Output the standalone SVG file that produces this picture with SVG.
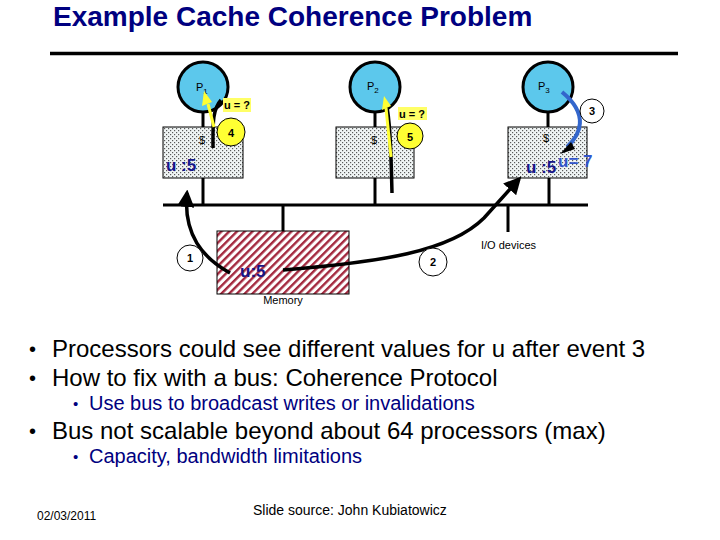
<svg xmlns="http://www.w3.org/2000/svg" width="720" height="540" viewBox="0 0 720 540">
<style>
text{font-family:"Liberation Sans",Arial,sans-serif}
.proc{fill:#5CC8EC;stroke:#000;stroke-width:3}
.cache{fill:url(#dots);stroke:#000;stroke-width:1}
.wire{stroke:#000;stroke-width:3;fill:none}
.lbl{font-size:11px;fill:#000}
.val{font-size:17px;font-weight:bold;fill:#16168a}
.num{fill:#fff;stroke:#000;stroke-width:1}
.ynum{fill:#FFFF33;stroke:#000;stroke-width:1}
.numt{font-size:11px;font-weight:bold;text-anchor:middle}
.ask{fill:#FFFF66}
.askt{font-size:11px;font-weight:bold}
.arr{stroke:#000;stroke-width:3.5;fill:none}
.main{font-size:24px;fill:#000}
.sub{font-size:20px;fill:#000080}
.bul{font-size:20px;fill:#000}
.sbul{font-size:15px;fill:#000080}
</style>
<defs>
<pattern id="dots" width="4" height="4" patternUnits="userSpaceOnUse">
<rect width="4" height="4" fill="#f0f5f5"/>
<rect x="0" y="0" width="1.2" height="1.2" fill="#5a5a5a"/>
<rect x="2" y="2" width="1.2" height="1.2" fill="#5a5a5a"/>
</pattern>
<pattern id="stripes" width="5.5" height="5.5" patternUnits="userSpaceOnUse" patternTransform="rotate(45)">
<rect width="5.5" height="5.5" fill="#fff"/>
<rect width="2.4" height="5.5" fill="#A3283E"/>
</pattern>
<marker id="ah" viewBox="0 0 10 10" refX="8" refY="5" markerWidth="5" markerHeight="5" orient="auto">
<path d="M0,0 L10,5 L0,10 z" fill="#000"/>
</marker>
</defs>

<text x="53" y="26" font-size="28" font-weight="bold" fill="#000080">Example Cache Coherence Problem</text>
<line x1="50" y1="53.5" x2="678" y2="53.5" stroke="#000" stroke-width="3.5"/>

<g id="connectors">
<line class="wire" x1="163" y1="205" x2="588" y2="205"/>
<line class="wire" x1="203" y1="112" x2="203" y2="127"/>
<line class="wire" x1="375" y1="112" x2="375" y2="127"/>
<line class="wire" x1="548" y1="112" x2="548" y2="127"/>
<line class="wire" x1="203" y1="178" x2="203" y2="205"/>
<line class="wire" x1="375" y1="178" x2="375" y2="205"/>
<line class="wire" x1="549" y1="178" x2="549" y2="205"/>
<line class="wire" x1="283" y1="205" x2="283" y2="231"/>
<line class="wire" x1="508" y1="205" x2="508" y2="232"/>
</g>

<g id="P1"><circle class="proc" cx="203" cy="87" r="25"/><text class="lbl" x="196" y="91">P<tspan font-size="8" dy="3">1</tspan></text></g>
<g id="P2"><circle class="proc" cx="375" cy="87" r="25"/><text class="lbl" x="367" y="90">P<tspan font-size="8" dy="3">2</tspan></text></g>
<g id="P3"><circle class="proc" cx="548" cy="87" r="25"/><text class="lbl" x="538" y="90">P<tspan font-size="8" dy="3">3</tspan></text></g>

<g id="cache1"><rect class="cache" x="163" y="127" width="80" height="51"/><text class="lbl" x="199" y="144">$</text><text class="val" x="166" y="171">u :5</text></g>
<g id="cache2"><rect class="cache" x="336" y="127" width="78" height="51"/><text class="lbl" x="371" y="144">$</text></g>
<g id="cache3"><rect class="cache" x="508" y="127" width="79" height="51"/><text class="lbl" x="543" y="142">$</text><text class="val" x="526" y="173">u :5</text><text x="558" y="167" font-size="17" font-weight="bold" fill="#3355CC">u= 7</text></g>

<g id="memory"><rect x="217" y="231" width="132" height="63" fill="url(#stripes)" stroke="#000" stroke-width="1"/><text class="val" x="240" y="277">u:5</text><text x="283" y="304" font-size="11" text-anchor="middle">Memory</text></g>

<g id="io"><text x="481" y="249" font-size="11">I/O devices</text></g>

<g id="events">
<path class="arr" d="M230,273 C203,258 183,235 187,193" marker-end="url(#ah)"/>
<path class="arr" d="M283,270 C380,262 450,252 484,218 L519,179" marker-end="url(#ah)"/>
<path d="M562,92 C590,115 580,135 567,147" stroke="#3366CC" stroke-width="4" fill="none"/>
<path d="M571,142 L560,154 L575,149 z" fill="#000"/>
<path class="arr" d="M213,148 C213,125 212,110 221,100"/>
<path d="M214,127 L208,104" stroke="#FFFF33" stroke-width="3"/>
<path d="M204,91 L202,106 L212,102 z" fill="#FFFF33"/>
<path class="arr" d="M392,193 C391,150 390,118 386,103"/>
<path d="M391,157 L386,108" stroke="#FFFF33" stroke-width="3"/>
<path d="M384,96 L382,110 L391,106 z" fill="#FFFF33"/>
</g>

<g id="label-ask1"><rect class="ask" x="223" y="98" width="28" height="14"/><text class="askt" x="224" y="109">u = ?</text></g>
<g id="label-ask2"><rect class="ask" x="398" y="107" width="29" height="13"/><text class="askt" x="399" y="118">u = ?</text></g>
<g id="ev1"><circle class="num" cx="190" cy="258" r="13"/><text class="numt" x="190" y="262">1</text></g>
<g id="ev2"><circle class="num" cx="433" cy="262" r="14"/><text class="numt" x="433" y="266">2</text></g>
<g id="ev3"><circle class="num" cx="592" cy="111" r="12"/><text class="numt" x="592" y="115">3</text></g>
<g id="ev4"><circle class="ynum" cx="231" cy="132" r="14"/><text class="numt" x="231" y="137" font-size="12">4</text></g>
<g id="ev5"><circle class="ynum" cx="410" cy="136" r="13"/><text class="numt" x="410" y="141" font-size="12">5</text></g>

<text class="bul" x="29" y="356">•</text><text class="main" x="52" y="357">Processors could see different values for u after event 3</text>
<text class="bul" x="29" y="385">•</text><text class="main" x="52" y="386">How to fix with a bus: Coherence Protocol</text>
<text class="sbul" x="73" y="409">•</text><text class="sub" x="89" y="410">Use bus to broadcast writes or invalidations</text>
<text class="bul" x="29" y="438">•</text><text class="main" x="52" y="439">Bus not scalable beyond about 64 processors (max)</text>
<text class="sbul" x="73" y="462">•</text><text class="sub" x="89" y="463">Capacity, bandwidth limitations</text>

<text x="37" y="520" font-size="12">02/03/2011</text>
<text x="253" y="515" font-size="14">Slide source: John Kubiatowicz</text>
</svg>
